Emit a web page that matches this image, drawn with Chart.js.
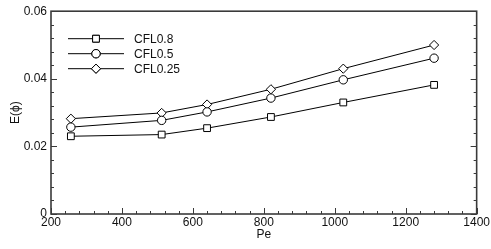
<!DOCTYPE html>
<html>
<head>
<meta charset="utf-8">
<script src="https://cdn.jsdelivr.net/npm/chart.js@4.4.1/dist/chart.umd.min.js"></script>
<style>
  html, body { margin: 0; padding: 0; background: #fff; }
  #wrap { width: 491px; height: 249px; position: relative; }
</style>
</head>
<body>
<div id="wrap"><canvas id="chart"></canvas></div>
<script>
(function () {
    'use strict';

    /* --- Data --- */
    var pe = [256, 512, 640, 820, 1024, 1280];
    var cfl08  = [0.0230, 0.0235, 0.0254, 0.0287, 0.0330, 0.0382];
    var cfl05  = [0.0257, 0.0277, 0.0302, 0.0343, 0.0397, 0.0461];
    var cfl025 = [0.0282, 0.0299, 0.0324, 0.0369, 0.0430, 0.0500];
    var seriesNames = ['CFL0.8', 'CFL0.5', 'CFL0.25'];
    var xTicks = [200, 400, 600, 800, 1000, 1200, 1400];
    var yTicks = [0, 0.02, 0.04, 0.06];

    var FONT = "'Liberation Sans', Arial, sans-serif";
    var ink = '#000';
    var frame = '#3a3a3a';

    Chart.defaults.font.family = FONT;
    Chart.defaults.font.size = 12;
    Chart.defaults.color = '#111';

    function pts(ys) {
        return pe.map(function (x, i) { return { x: x, y: ys[i] }; });
    }

    var markers = [
        { style: 'rect', radius: 4.8 },
        { style: 'circle', radius: 4.2 },
        { style: 'rectRot', radius: 4.6 }
    ];

    function ds(label, ys, m) {
        return {
            label: label,
            data: pts(ys),
            showLine: true,
            borderColor: ink,
            borderWidth: 1,
            pointStyle: m.style,
            pointRadius: m.radius,
            pointBackgroundColor: '#fff',
            pointBorderColor: ink,
            pointBorderWidth: 1,
            tension: 0
        };
    }

    /* --- Frame, inward ticks and in-plot legend --- */
    var framePlugin = {
        id: 'framePlugin',
        afterDatasetsDraw: function (chart) {
            var ctx = chart.ctx, a = chart.chartArea;
            var sx = chart.scales.x, sy = chart.scales.y;
            ctx.save();
            ctx.strokeStyle = frame;
            ctx.lineWidth = 1;
            var v, p, major;
            // x ticks (bottom)
            for (v = 200; v <= 1400; v += 40) {
                p = Math.round(sx.getPixelForValue(v)) + 0.5;
                major = (v % 200 === 0);
                ctx.beginPath();
                ctx.moveTo(p, a.bottom);
                ctx.lineTo(p, a.bottom - (major ? 6 : 3));
                ctx.stroke();
            }
            // y ticks (left and right)
            for (var k = 0; k <= 15; k++) {
                v = k * 0.004;
                p = Math.round(sy.getPixelForValue(v)) + 0.5;
                major = (k % 5 === 0);
                var len = major ? 6 : 3;
                ctx.beginPath();
                ctx.moveTo(a.left, p); ctx.lineTo(a.left + len, p);
                ctx.moveTo(a.right, p); ctx.lineTo(a.right - len, p);
                ctx.stroke();
            }
            ctx.lineWidth = 1.6;
            ctx.strokeRect(a.left, a.top, a.right - a.left, a.bottom - a.top);

            // legend
            ctx.font = '12px ' + FONT;
            ctx.textBaseline = 'middle';
            ctx.textAlign = 'left';
            ctx.fillStyle = '#111';
            var x0 = a.left + 17, x1 = a.left + 73, xm = a.left + 45;
            var rowY = [a.top + 27, a.top + 42, a.top + 57];
            for (var i = 0; i < 3; i++) {
                ctx.strokeStyle = ink;
                ctx.lineWidth = 1;
                ctx.beginPath();
                ctx.moveTo(x0, rowY[i] + 0.5);
                ctx.lineTo(x1, rowY[i] + 0.5);
                ctx.stroke();
                ctx.fillStyle = '#fff';
                Chart.helpers.drawPoint(ctx, {
                    pointStyle: markers[i].style,
                    radius: markers[i].radius,
                    borderWidth: 1,
                    rotation: 0
                }, xm, rowY[i] + 0.5);
                ctx.fill();
                ctx.stroke();
                ctx.fillStyle = '#111';
                ctx.fillText(seriesNames[i], a.left + 83, rowY[i] + 1);
            }
            ctx.restore();
        }
    };

    new Chart(document.getElementById('chart'), {
        type: 'scatter',
        data: {
            datasets: [
                ds(seriesNames[0], cfl08, markers[0]),
                ds(seriesNames[1], cfl05, markers[1]),
                ds(seriesNames[2], cfl025, markers[2])
            ]
        },
        options: {
            responsive: true,
            maintainAspectRatio: false,
            animation: false,
            layout: { padding: { left: 0, right: 14, top: 7, bottom: 7 } },
            plugins: {
                legend: { display: false },
                tooltip: { enabled: false }
            },
            scales: {
                x: {
                    type: 'linear',
                    min: 200,
                    max: 1400,
                    afterBuildTicks: function (s) {
                        s.ticks = xTicks.map(function (v) { return { value: v }; });
                    },
                    afterFit: function (s) { s.height = 28; },
                    grid: { display: false, drawTicks: false },
                    border: { display: false },
                    ticks: {
                        padding: 1,
                        maxRotation: 0,
                        color: '#111',
                        callback: function (v) { return String(v); }
                    },
                    title: {
                        display: true,
                        text: 'Pe',
                        padding: { top: 0, bottom: 0 },
                        color: '#111'
                    }
                },
                y: {
                    type: 'linear',
                    min: 0,
                    max: 0.06,
                    afterBuildTicks: function (s) {
                        s.ticks = yTicks.map(function (v) { return { value: v }; });
                    },
                    afterFit: function (s) { s.width = 51; },
                    grid: { display: false, drawTicks: false },
                    border: { display: false },
                    ticks: {
                        padding: 4,
                        color: '#111',
                        callback: function (v) { return v === 0 ? '0' : v.toFixed(2); }
                    },
                    title: {
                        display: true,
                        text: 'E(\u03d5)',
                        padding: { top: 8, bottom: 0 },
                        color: '#111'
                    }
                }
            }
        },
        plugins: [framePlugin]
    });
})();
</script>
</body>
</html>
